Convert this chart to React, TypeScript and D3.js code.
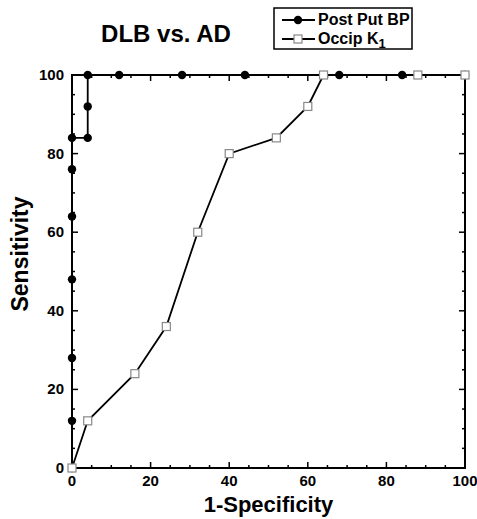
import React, { useEffect, useRef } from 'react';
import * as d3 from 'd3';

// Post Put BP (filled circles)
const bpX = [0, 0, 0, 0, 0, 0, 0, 4, 4, 4, 12, 28, 44, 68, 84, 100];
const bpY = [0, 12, 28, 48, 64, 76, 84, 84, 92, 100, 100, 100, 100, 100, 100, 100];

// Occip K1 (open squares)
const k1X = [0, 4, 16, 24, 32, 40, 52, 60, 64, 88, 100];
const k1Y = [0, 12, 24, 36, 60, 80, 84, 92, 100, 100, 100];

const majorTicks = [0, 20, 40, 60, 80, 100];
const minorTicks = d3.range(0, 101, 5).filter(v => v % 20 !== 0);

const width = 477;
const height = 519;
const margin = { top: 75, right: 12, bottom: 51, left: 72 };

export default function App() {
	const ref = useRef<SVGSVGElement>(null);

	useEffect(() => {
		const svg = d3.select(ref.current);
		svg.selectAll('*').remove();
		const font = 'Liberation Sans, Arial, sans-serif';

		const x = d3.scaleLinear().domain([0, 100]).range([margin.left, width - margin.right]);
		const y = d3.scaleLinear().domain([0, 100]).range([height - margin.bottom, margin.top]);

		const g = svg.append('g');

		// ticks on all four sides, pointing inward
		const tick = (vals: number[], len: number) => {
			vals.forEach(v => {
				g.append('line').attr('x1', x(v)).attr('x2', x(v)).attr('y1', y(0)).attr('y2', y(0) - len);
				g.append('line').attr('x1', x(v)).attr('x2', x(v)).attr('y1', y(100)).attr('y2', y(100) + len);
				g.append('line').attr('y1', y(v)).attr('y2', y(v)).attr('x1', x(0)).attr('x2', x(0) + len);
				g.append('line').attr('y1', y(v)).attr('y2', y(v)).attr('x1', x(100)).attr('x2', x(100) - len);
			});
		};
		tick(majorTicks, 6);
		tick(minorTicks, 3);
		g.selectAll('line').attr('stroke', '#000').attr('stroke-width', 1.5);

		g.append('rect')
			.attr('x', x(0))
			.attr('y', y(100))
			.attr('width', x(100) - x(0))
			.attr('height', y(0) - y(100))
			.attr('fill', 'none')
			.attr('stroke', '#000')
			.attr('stroke-width', 2);

		// tick labels
		majorTicks.forEach(v => {
			g.append('text')
				.attr('x', x(v))
				.attr('y', y(0) + 18)
				.attr('text-anchor', 'middle')
				.text(v);
			g.append('text')
				.attr('x', x(0) - 8)
				.attr('y', y(v) + 5)
				.attr('text-anchor', 'end')
				.text(v);
		});
		g.selectAll('text').attr('font-family', font).attr('font-weight', 'bold').attr('font-size', 15);

		// axis titles
		svg.append('text')
			.attr('x', (x(0) + x(100)) / 2)
			.attr('y', 512)
			.attr('text-anchor', 'middle')
			.attr('font-family', font)
			.attr('font-weight', 'bold')
			.attr('font-size', 22)
			.text('1-Specificity');
		svg.append('text')
			.attr('transform', 'translate(20,254) rotate(-90)')
			.attr('text-anchor', 'middle')
			.attr('dy', '0.35em')
			.attr('font-family', font)
			.attr('font-weight', 'bold')
			.attr('font-size', 23)
			.text('Sensitivity');
		svg.append('text')
			.attr('x', 166)
			.attr('y', 42)
			.attr('text-anchor', 'middle')
			.attr('font-family', font)
			.attr('font-weight', 'bold')
			.attr('font-size', 24)
			.text('DLB vs. AD');

		const line = d3
			.line<number[]>()
			.x(d => x(d[0]))
			.y(d => y(d[1]));

		const bp = bpX.map((v, i) => [v, bpY[i]]);
		const k1 = k1X.map((v, i) => [v, k1Y[i]]);

		g.append('path').datum(bp).attr('d', line).attr('fill', 'none').attr('stroke', '#000').attr('stroke-width', 1.8);
		g.append('path').datum(k1).attr('d', line).attr('fill', 'none').attr('stroke', '#000').attr('stroke-width', 1.8);

		g.selectAll('circle.bp')
			.data(bp)
			.enter()
			.append('circle')
			.attr('cx', d => x(d[0]))
			.attr('cy', d => y(d[1]))
			.attr('r', 4.2)
			.attr('fill', '#000');

		g.selectAll('rect.k1')
			.data(k1)
			.enter()
			.append('rect')
			.attr('x', d => x(d[0]) - 4)
			.attr('y', d => y(d[1]) - 4)
			.attr('width', 8)
			.attr('height', 8)
			.attr('fill', '#fff')
			.attr('stroke', '#888')
			.attr('stroke-width', 1.2);

		// legend
		const lg = svg.append('g');
		lg.append('rect')
			.attr('x', 274)
			.attr('y', 8)
			.attr('width', 138)
			.attr('height', 41)
			.attr('fill', '#fff')
			.attr('stroke', '#000')
			.attr('stroke-width', 1.5);
		[20, 39].forEach((ly, i) => {
			lg.append('line').attr('x1', 282).attr('x2', 315).attr('y1', ly).attr('y2', ly).attr('stroke', '#000').attr('stroke-width', 1.8);
			if (i === 0) {
				lg.append('circle').attr('cx', 298).attr('cy', ly).attr('r', 4.2).attr('fill', '#000');
			} else {
				lg.append('rect')
					.attr('x', 294)
					.attr('y', ly - 4)
					.attr('width', 8)
					.attr('height', 8)
					.attr('fill', '#fff')
					.attr('stroke', '#888')
					.attr('stroke-width', 1.2);
			}
		});
		lg.append('text')
			.attr('x', 318)
			.attr('y', 25)
			.attr('font-family', font)
			.attr('font-weight', 'bold')
			.attr('font-size', 16)
			.text('Post Put BP');
		const t2 = lg
			.append('text')
			.attr('x', 318)
			.attr('y', 44)
			.attr('font-family', font)
			.attr('font-weight', 'bold')
			.attr('font-size', 16);
		t2.append('tspan').text('Occip K');
		t2.append('tspan').attr('dy', 4).attr('font-size', 13).text('1');
	}, []);

	return <svg ref={ref} width={width} height={height} style={{ position: 'absolute', left: 0, top: 0, background: '#fff' }} />;
}
